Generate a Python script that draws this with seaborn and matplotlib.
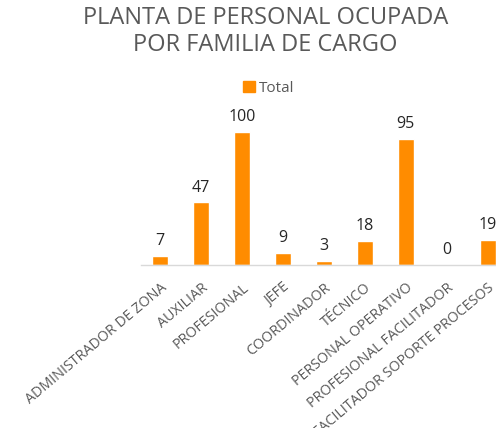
import matplotlib
matplotlib.use("Agg")
import matplotlib.pyplot as plt
import seaborn as sns
import pandas as pd
from matplotlib.patches import Patch

cargos = ["ADMINISTRADOR DE ZONA", "AUXILIAR", "PROFESIONAL", "JEFE", "COORDINADOR",
          "TÉCNICO", "PERSONAL OPERATIVO", "PROFESIONAL FACILITADOR",
          "FACILITADOR SOPORTE PROCESOS"]
totales = [7, 47, 100, 9, 3, 18, 95, 0, 19]

df = pd.DataFrame({"cargo": cargos, "total": totales})

sns.set_style("white")
plt.rcParams["font.family"] = ["Open Sans", "DejaVu Sans"]

naranja = "#FF8C00"
gris = "#595959"

fig = plt.figure(figsize=(4.96, 4.28), dpi=100)
ax = fig.add_axes([141 / 496, 163 / 428, 367 / 496, 133 / 428])

sns.barplot(data=df, x="cargo", y="total", color=naranja, width=0.39,
            saturation=1, ax=ax)

ax.set_xlim(-0.47, 8.5)
ax.set_ylim(0, 100)

for i, v in enumerate(totales):
    ax.annotate(str(v), (i, v), xytext=(0, 5), textcoords="offset points",
                ha="center", va="bottom", fontsize=11.5, color="#262626",
                annotation_clip=False)

ax.set_xlabel("")
ax.set_ylabel("")
ax.set_yticks([])
ax.tick_params(axis="x", length=0, pad=11)
ax.set_xticks(range(len(cargos)))
ax.set_xticklabels(cargos, rotation=40, ha="right", rotation_mode="anchor",
                   fontsize=10.3, color=gris)
for s in ["top", "right", "left"]:
    ax.spines[s].set_visible(False)
ax.spines["bottom"].set_color("#D9D9D9")
ax.spines["bottom"].set_linewidth(1)

fig.text(0.535, 0.985, "PLANTA DE PERSONAL OCUPADA\nPOR FAMILIA DE CARGO",
         ha="center", va="top", fontsize=17, color=gris, linespacing=1.15)

fig.legend(handles=[Patch(color=naranja, label="Total")], loc="center",
           bbox_to_anchor=(269 / 496, 1 - 88 / 428), frameon=False,
           fontsize=11, handlelength=0.75, handleheight=0.75, handletextpad=0.3,
           labelcolor=gris)

fig.savefig("out.png", dpi=100)
